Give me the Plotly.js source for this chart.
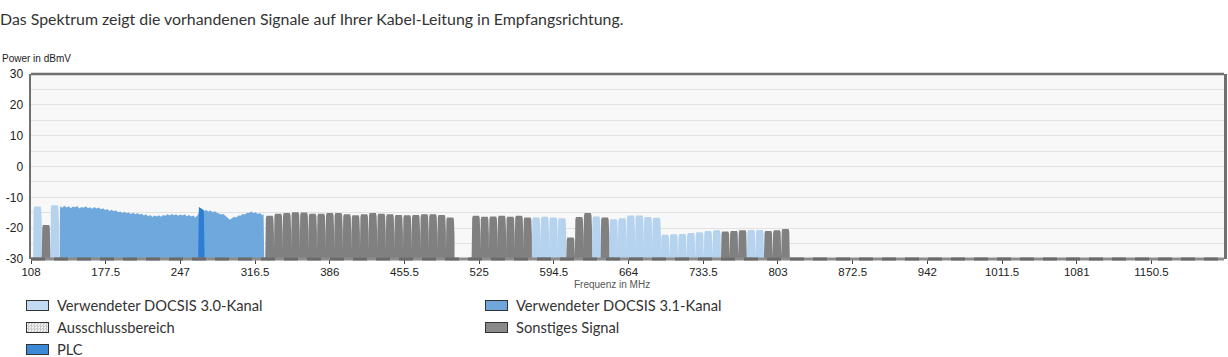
<!DOCTYPE html>
<html><head><meta charset="utf-8">
<script src="https://cdn.plot.ly/plotly-3.0.1.min.js"></script>
<style>
html,body{margin:0;padding:0;background:#fff;width:1228px;height:357px;overflow:hidden;}
#chart{position:absolute;left:0;top:0;width:1228px;height:357px;}
#intro{position:absolute;left:0;top:9px;font-family:Lato,'Open Sans',sans-serif;font-size:15.9px;color:#333;white-space:nowrap;line-height:20px;}
.leg{position:absolute;font-family:Lato,'Open Sans',sans-serif;font-size:14.7px;color:#333;white-space:nowrap;line-height:20px;}
.sw{position:absolute;box-sizing:border-box;width:23px;height:11px;border:1px solid #333;}
</style></head>
<body>
<div id="chart"></div>
<div id="intro"></div>
<div id="legend"></div>
<script>
// ---------- data ----------
const introText = 'Das Spektrum zeigt die vorhandenen Signale auf Ihrer Kabel-Leitung in Empfangsrichtung.';
const yTitle = 'Power in dBmV';
const xTitle = 'Frequenz in MHz';

// 8 MHz channels: start frequency (MHz) and level (dBmV)
const docsis30Start = [110,126,574,582,590,598,630,646,654,662,670,678,686,694,702,710,718,726,734,742,774,782];
const docsis30Level = [-13.0,-12.6,-16.5,-16.3,-16.5,-16.8,-16.2,-17.1,-16.8,-15.9,-15.9,-16.4,-16.6,-22.1,-22.0,-21.9,-21.6,-21.3,-20.9,-20.7,-20.6,-20.6];

const otherStart = [118,
  326,334,342,350,358,366,374,382,390,398,406,414,422,430,438,446,454,462,470,478,486,494,
  518,526,534,542,550,558,566,
  606,614,622,638,
  750,758,766,790,798,806];
const otherLevel = [-19.0,
  -16.0,-15.3,-15.1,-14.8,-14.9,-15.3,-15.3,-15.1,-15.1,-15.5,-15.8,-15.5,-15.1,-15.3,-15.5,-15.7,-15.8,-15.7,-15.5,-15.5,-15.7,-16.5,
  -16.0,-16.3,-16.2,-16.0,-16.3,-16.0,-16.5,
  -23.0,-16.4,-15.1,-16.5,
  -21.1,-20.9,-20.7,-20.9,-20.7,-20.3];

// DOCSIS 3.1 OFDM block profile
const ofdmFreq = [134.6,135,137,139,141,143,145,147,149,151,153,155,157,159,161,163,165,167,169,171,173,175,177,179,181,183,185,187,189,191,193,195,197,199,201,203,205,207,209,211,213,215,217,219,221,223,225,227,229,231,233,235,237,239,241,243,245,247,249,251,253,255,257,259,261,263,265,267,269,271,273,275,277,279,281,283,285,287,289,291,293,295,297,299,301,303,305,307,309,311,313,315,317,319,321,323,324.4,325];
const ofdmLevel = [-30,-12.9,-13.4,-12.7,-13.3,-12.9,-13.5,-13.0,-13.2,-12.8,-13.6,-13.1,-13.4,-12.9,-13.5,-13.2,-13.7,-13.1,-13.6,-13.3,-13.9,-13.5,-14.1,-13.8,-14.4,-14.0,-14.5,-14.2,-14.8,-14.6,-15.1,-14.7,-15.2,-14.9,-15.4,-15.0,-15.5,-15.2,-15.6,-15.3,-15.9,-15.5,-16.1,-15.7,-16.4,-15.9,-16.2,-15.8,-16.3,-15.7,-16.0,-15.5,-15.9,-15.4,-15.8,-15.5,-16.0,-15.6,-15.9,-15.5,-16.1,-15.7,-16.2,-15.9,-16.5,-15.8,-14.5,-14.2,-14.4,-14.1,-14.6,-14.3,-14.8,-14.5,-15.0,-15.2,-15.6,-15.4,-16.1,-16.6,-17.3,-16.8,-16.3,-16.5,-15.9,-16.0,-15.4,-15.6,-15.0,-15.1,-14.6,-15.2,-14.8,-15.4,-15.1,-15.7,-15.6,-30];

// PLC
const plcFreq  = [263.5,264.2,266.5,268.8,269.5];
const plcLevel = [-30,-13.1,-13.6,-14.2,-30];

// axes
const xRange = [108, 1218];
const xTickVals = [108,177.5,247,316.5,386,455.5,525,594.5,664,733.5,803,872.5,942,1011.5,1081,1150.5];
const xTickText = ['108','177.5','247','316.5','386','455.5','525','594.5','664','733.5','803','872.5','942','1011.5','1081','1150.5'];
const yRange = [-30, 30];
const yTickVals = [-30,-20,-10,0,10,20,30];
const yTickText = ['-30','-20','-10','0','10','20','30'];

// legend
const legendLabels = ['Verwendeter DOCSIS 3.0-Kanal','Verwendeter DOCSIS 3.1-Kanal','Ausschlussbereich','Sonstiges Signal','PLC'];

// ---------- styles ----------
const C30 = '#b5d2ee', C31 = '#6fa8dc', CPLC = '#2d7dd2', COTH = '#808080';
const legendColors = ['#c3dbf2','#6fa6dc','pattern','#8a8a8a','#3c89d6'];
const legendPos = [[26,305],[485,305],[26,327],[485,327],[26,349]];
const CH_W = 8;

function channelPolys(starts, levels){
  const x=[], y=[];
  starts.forEach((f0,i)=>{
    const L = levels[i], f1 = f0 + CH_W;
    x.push(f0-0.05, f0-0.05, f0+0.5, f0+1.1, f1-1.1, f1-0.5, f1+0.05, f1+0.05, null);
    y.push(-30, L-6, L-0.8, L, L, L-0.8, L-6, -30, null);
  });
  return {x, y};
}
const p30 = channelPolys(docsis30Start, docsis30Level);
const pOth = channelPolys(otherStart, otherLevel);

const base = {type:'scatter', mode:'lines', fill:'toself', line:{width:0}, hoverinfo:'skip', showlegend:false};
const traces = [
  Object.assign({}, base, {x: ofdmFreq, y: ofdmLevel, fillcolor: C31, name:legendLabels[1]}),
  Object.assign({}, base, {x: plcFreq, y: plcLevel, fillcolor: CPLC, name:legendLabels[4]}),
  Object.assign({}, base, {x: p30.x, y: p30.y, fillcolor: C30, name:legendLabels[0]}),
  Object.assign({}, base, {x: pOth.x, y: pOth.y, fillcolor: COTH, name:legendLabels[3]})
];

const tickFont = {family:'Liberation Sans, Arial, sans-serif', size:11.5, color:'#222'};
const layout = {
  width:1228, height:357,
  margin:{l:31, r:4, t:74, b:98, pad:0},
  paper_bgcolor:'rgba(0,0,0,0)', plot_bgcolor:'#f8f8f8',
  showlegend:false,
  xaxis:{range:xRange, tickmode:'array', tickvals:xTickVals, ticktext:xTickText, showgrid:false, zeroline:false,
         ticks:'outside', ticklen:4, tickcolor:'#444', tickwidth:1, tickfont:tickFont,
         ticklabelstandoff:-2, showline:false, fixedrange:true},
  yaxis:{range:yRange, tickmode:'array', tickvals:yTickVals, ticktext:yTickText, showgrid:true, gridcolor:'#e2e2e2', gridwidth:1,
         minor:{dtick:5, tick0:-30, showgrid:true, gridcolor:'#e2e2e2', gridwidth:1},
         zeroline:false, ticks:'', tickfont:{family:'Liberation Sans, Arial, sans-serif', size:12, color:'#222'}, ticklabelstandoff:3,
         showline:true, linecolor:'#707070', linewidth:2.5, mirror:true, fixedrange:true},
  shapes:[
    {type:'line', xref:'paper', yref:'paper', x0:0, x1:1, y0:1, y1:1, line:{color:'#707070', width:2.5}},
    {type:'line', xref:'paper', yref:'paper', x0:0, x1:1, y0:0, y1:0, line:{color:'#8c8c8c', width:3}},
    {type:'line', xref:'paper', yref:'paper', x0:0, x1:1, y0:0, y1:0, line:{color:'#6a6a6a', width:3, dash:'14px,9px'}}
  ],
  annotations:[
    {text:yTitle, xref:'paper', yref:'paper', x:-31/1193, y:1, xanchor:'left', yanchor:'bottom', yshift:8, showarrow:false,
     font:{family:'Liberation Sans, Arial, sans-serif', size:10, color:'#222'}},
    {text:xTitle, xref:'paper', yref:'paper', x:(612-31)/1193, y:0, xanchor:'center', yanchor:'middle', yshift:-25, showarrow:false,
     font:{family:'Liberation Sans, Arial, sans-serif', size:10, color:'#555'}}
  ]
};
Plotly.newPlot('chart', traces, layout, {staticPlot:true, displayModeBar:false});

document.getElementById('intro').textContent = introText;
const leg = document.getElementById('legend');
legendLabels.forEach((lab,i)=>{
  const [lx, ly] = legendPos[i];
  const sw = document.createElement('div');
  sw.className = 'sw';
  sw.style.left = lx + 'px';
  sw.style.top = (ly - 5.5) + 'px';
  if (legendColors[i] === 'pattern') {
    sw.style.backgroundColor = '#fff';
    sw.style.backgroundImage = 'repeating-conic-gradient(#c8c8c8 0 25%, #f4f4f4 0 50%)';
    sw.style.backgroundSize = '3px 3px';
  } else {
    sw.style.backgroundColor = legendColors[i];
  }
  leg.appendChild(sw);
  const t = document.createElement('div');
  t.className = 'leg';
  t.textContent = lab;
  t.style.left = (lx + 31) + 'px';
  t.style.top = (ly - 10) + 'px';
  leg.appendChild(t);
});
</script>
</body></html>
